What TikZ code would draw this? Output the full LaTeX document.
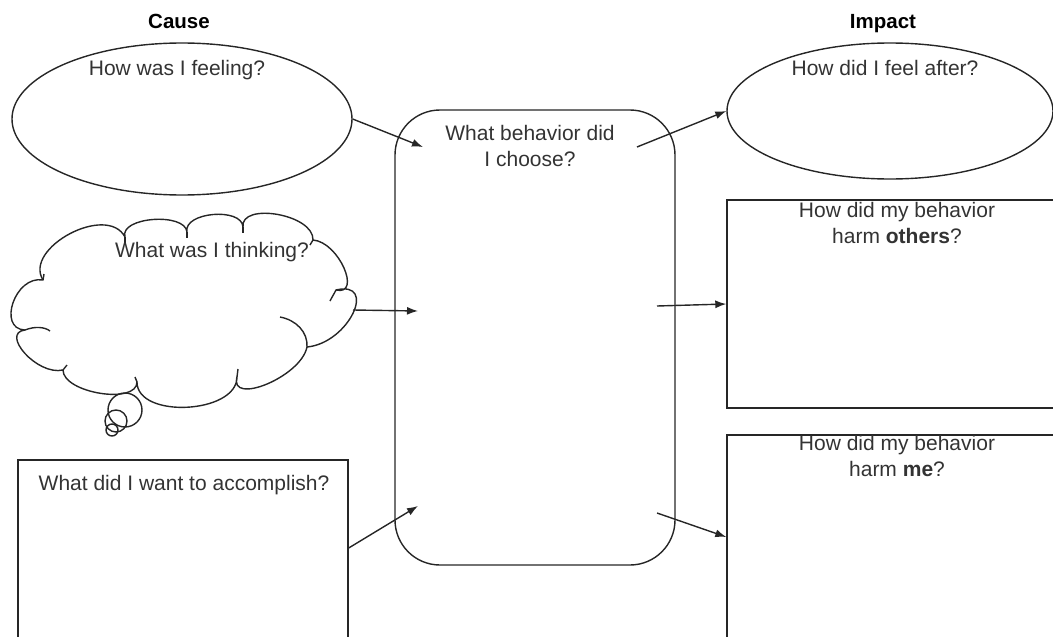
\documentclass[tikz,border=0pt]{standalone}
\usepackage{fontspec}
\setmainfont{Liberation Sans}
\usetikzlibrary{shapes.geometric,arrows.meta}
\begin{document}
\begin{tikzpicture}[x=1pt,y=-1pt]
	\tikzstyle{Oval} = [ellipse, draw=black!85, line width=1.4pt, inner sep=0pt]
	\tikzstyle{Box} = [rectangle, draw=black!85, line width=1.4pt, inner sep=0pt]
	\tikzstyle{Ask} = [font=\fontsize{21}{26}\selectfont, text=black!80, inner sep=0pt, align=center]
	\tikzstyle{Head} = [font=\bfseries\fontsize{20.5}{24}\selectfont, inner sep=0pt]
	\tikzstyle{Link} = [draw=black!85, line width=1.4pt, -{Latex[length=11pt,width=8pt]}]
	\tikzstyle{Puff} = [draw=black!85, line width=1.4pt, line join=round]
	\useasboundingbox (0,0) rectangle (1053,637);
	\node (feel) at (182,119) [Oval, minimum width=340, minimum height=152] {};
	\node (after) at (890,111) [Oval, minimum width=326, minimum height=136] {};
	\node (choose) at (535,337.5) [Box, rounded corners=45pt, minimum width=280, minimum height=455] {};
	\node (want) at (183,560) [Box, minimum width=330, minimum height=200] {};
	\node (others) at (903.5,304) [Box, minimum width=353, minimum height=208] {};
	\node (me) at (903.5,547.5) [Box, minimum width=353, minimum height=225] {};
	\draw[Puff] (43,280) .. controls +(-20,-32) and +(-18,-34) .. (125,237)
		.. controls +(-6,-20) and +(-2,-20) .. (187,232)
		.. controls +(-4,-20) and +(-1,-20) .. (243,227)
		.. controls +(-3,-25) and +(1,-26) .. (313,240)
		.. controls +(26,2) and +(26,6) .. (336,290)
		.. controls +(42,-10) and +(42,-4) .. (307,347)
		.. controls +(-6,30) and +(-8,29) .. (237,377)
		.. controls +(0,37) and +(0,37) .. (137,382)
		.. controls +(0,23) and +(0,23) .. (63,370)
		.. controls +(-26,6) and +(-25,3) .. (25,330)
		.. controls +(-28,-1) and +(-28,-5) .. (43,280) -- cycle;
	\draw[Puff] (25,330) .. controls (35,326) and (45,327) .. (50,331);
	\draw[Puff] (336,290) .. controls (334,294) and (332,297) .. (330,301);
	\draw[Puff] (307,347) .. controls (308,332) and (296,320) .. (280,317);
	\draw[Puff] (237,377) -- (238,369);
	\draw[Puff] (125,237) -- (125,243);
	\draw[Puff] (187,232) -- (187,238);
	\draw[Puff] (243,227) -- (243,233);
	\draw[Puff] (313,240) -- (310,245);
	\draw[Puff] (137,382) -- (135,377);
	\draw[Puff] (63,370) -- (67,365);
	\draw[Puff] (43,280) -- (44,274);
	\draw[Puff] (125,410) circle (17);
	\draw[Puff] (116,421) circle (11);
	\draw[Puff] (112,430) circle (6);
	\node (cause) at (179,28) [Head, anchor=base] {Cause};
	\node (impact) at (883,28) [Head, anchor=base] {Impact};
	\node (feelq) at (177,75) [Ask, anchor=base] {How was I feeling?};
	\node (afterq) at (885,75) [Ask, anchor=base] {How did I feel after?};
	\node (thinkq) at (212,257) [Ask, anchor=base] {What was I thinking?};
	\node (wantq) at (184,490) [Ask, anchor=base] {What did I want to accomplish?};
	\node (chooseq) at (530,125) [Ask, anchor=north] {What behavior did\\I choose?};
	\node (othersq) at (897,202) [Ask, anchor=north] {How did my behavior\\harm \textbf{others}?};
	\node (meq) at (897,435) [Ask, anchor=north] {How did my behavior\\harm \textbf{me}?};
	\coordinate (think) at (353,310);
	\coordinate (in1) at (423,147);
	\coordinate (out1) at (637,147);
	\coordinate (in2) at (418,311);
	\coordinate (out2) at (657,306);
	\coordinate (in3) at (418,506);
	\coordinate (out3) at (657,513);
	\draw[Link] (feel.east) -- (in1);
	\draw[Link] (out1) -- (after.west);
	\draw[Link] (think) -- (in2);
	\draw[Link] (out2) -- (others.west);
	\draw[Link] ([yshift=12pt]want.east) -- (in3);
	\draw[Link] (out3) -- ([yshift=10.5pt]me.west);
\end{tikzpicture}
\end{document}
